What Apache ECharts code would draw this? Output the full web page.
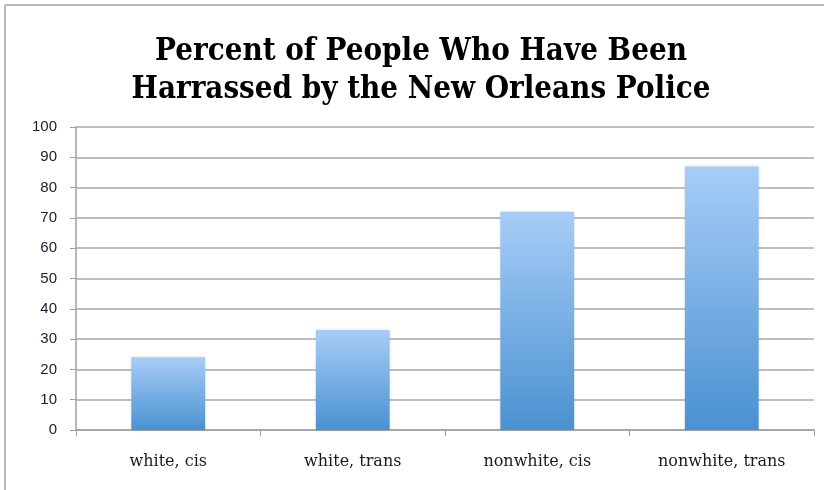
<!DOCTYPE html>
<html><head><meta charset="utf-8">
<script src="https://cdn.jsdelivr.net/npm/echarts@6/dist/echarts.min.js"></script>
<style>html,body{margin:0;padding:0;background:#fff}#c{width:824px;height:490px}</style>
</head><body><div id="c"></div>
<script>
const titleLines = ['Percent of People Who Have Been', 'Harrassed by the New Orleans Police'];
const categories = ['white, cis', 'white, trans', 'nonwhite, cis', 'nonwhite, trans'];
const values = [24, 33, 72, 87];

const chart = echarts.init(document.getElementById('c'), null, {renderer: 'canvas'});
chart.setOption({
  animation: false,
  backgroundColor: '#ffffff',
  title: {
    text: titleLines.join('\n'),
    left: 416,
    textAlign: 'center',
    top: 28,
    textStyle: {fontFamily: 'DejaVu Serif Condensed', fontWeight: 'bold', fontSize: 31, color: '#000', lineHeight: 38}
  },
  graphic: [
    {type: 'line', shape: {x1: 5, y1: 5, x2: 824, y2: 5}, style: {stroke: '#b8b8b8', lineWidth: 2}},
    {type: 'line', shape: {x1: 5, y1: 5, x2: 5, y2: 490}, style: {stroke: '#b8b8b8', lineWidth: 2}}
  ],
  grid: {left: 76, right: 10, top: 127, bottom: 60, containLabel: false},
  xAxis: {
    type: 'category',
    data: categories,
    axisLine: {lineStyle: {color: '#a0a0a0', width: 1.5}},
    axisTick: {show: true, length: 6, lineStyle: {color: '#a0a0a0'}},
    axisLabel: {margin: 24, fontFamily: 'DejaVu Serif', fontSize: 16, color: '#1a1a1a'}
  },
  yAxis: {
    type: 'value', min: 0, max: 100, interval: 10,
    axisLine: {show: true, lineStyle: {color: '#a0a0a0', width: 1.5}},
    axisTick: {show: true, length: 6, lineStyle: {color: '#a0a0a0'}},
    splitLine: {lineStyle: {color: '#a8a8a8', width: 1.5}},
    axisLabel: {margin: 19, fontFamily: 'Liberation Sans', fontSize: 15, color: '#1c1c30'}
  },
  series: [{
    type: 'bar',
    data: values,
    barWidth: '40%',
    itemStyle: {
      color: new echarts.graphic.LinearGradient(0, 0, 0, 1, [
        {offset: 0, color: '#a7cdf7'},
        {offset: 1, color: '#4a91d1'}
      ]),
      shadowColor: 'rgba(0,0,0,0.15)', shadowBlur: 3
    }
  }]
});
</script></body></html>
